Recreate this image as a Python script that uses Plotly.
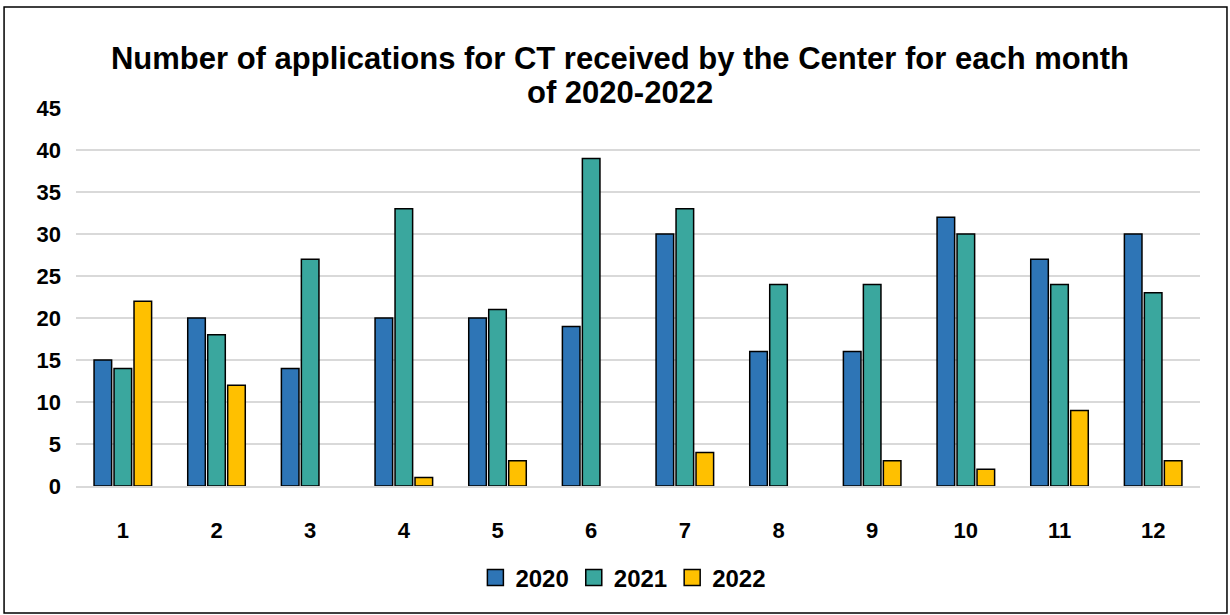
import plotly.graph_objects as go

months = [str(m) for m in range(1, 13)]
y2020 = [15, 20, 14, 20, 20, 19, 30, 16, 16, 32, 27, 30]
y2021 = [14, 18, 27, 33, 21, 39, 33, 24, 24, 30, 24, 23]
y2022 = [22, 12, 0, 1, 3, 0, 4, 0, 3, 2, 9, 3]

series = [("2020", y2020, "#2E75B6"), ("2021", y2021, "#3AA79E"), ("2022", y2022, "#FFC000")]

title_l1 = "Number of applications for CT received by the Center for each month"
title_l2 = "of 2020-2022"

fig = go.Figure()
for name, vals, color in series:
    # no outline for empty months, like the original
    widths = [1.5 if v > 0 else 0 for v in vals]
    fig.add_trace(go.Bar(
        x=months, y=vals, name=name, showlegend=False,
        marker=dict(color=color, line=dict(color="black", width=widths)),
    ))
    # legend entry with the outlined square swatch of the original
    fig.add_trace(go.Scatter(
        x=[None], y=[None], mode="markers", name=f"<b>{name}</b>",
        marker=dict(symbol="square", size=16, color=color,
                    line=dict(color="black", width=1.5)),
    ))

fig.update_layout(
    width=1230, height=615,
    paper_bgcolor="white", plot_bgcolor="white",
    font=dict(family="Liberation Sans, Arial", color="black"),
    margin=dict(l=76, r=30, t=108, b=129),
    barmode="group", bargap=0.36, bargroupgap=0.12,
    title=dict(
        text=f"<b>{title_l1}</b>",
        x=0.504, xref="container", xanchor="center",
        y=1 - 58 / 615, yref="container", yanchor="middle",
        font=dict(size=31),
    ),
    annotations=[dict(
        text=f"<b>{title_l2}</b>", showarrow=False,
        xref="paper", yref="paper", x=0.484, y=1.04, yanchor="middle",
        font=dict(size=31),
    )],
    legend=dict(
        orientation="h", x=0.487, xanchor="center", y=-0.243, yanchor="middle",
        font=dict(size=24), itemwidth=30, tracegroupgap=0,
    ),
    showlegend=True,
    shapes=[dict(type="rect", xref="paper", yref="paper",
                 x0=-0.064, x1=1.024, y0=-0.336, y1=1.267,
                 line=dict(color="black", width=1.5), layer="below")],
)
fig.update_yaxes(
    range=[0, 45], dtick=5, showgrid=True, gridcolor="#D9D9D9", gridwidth=1.5,
    zeroline=False, showline=False,
    tickfont=dict(size=22), ticklabelstandoff=14,
    tickprefix="<b>", ticksuffix="</b>",
)
fig.update_xaxes(
    showline=True, linecolor="#D9D9D9", linewidth=1.5,
    tickfont=dict(size=22), ticklabelstandoff=24,
    tickprefix="<b>", ticksuffix="</b>",
)

fig.write_html("out.html", config={"displayModeBar": False},
               post_script="document.body.style.margin='0';")
